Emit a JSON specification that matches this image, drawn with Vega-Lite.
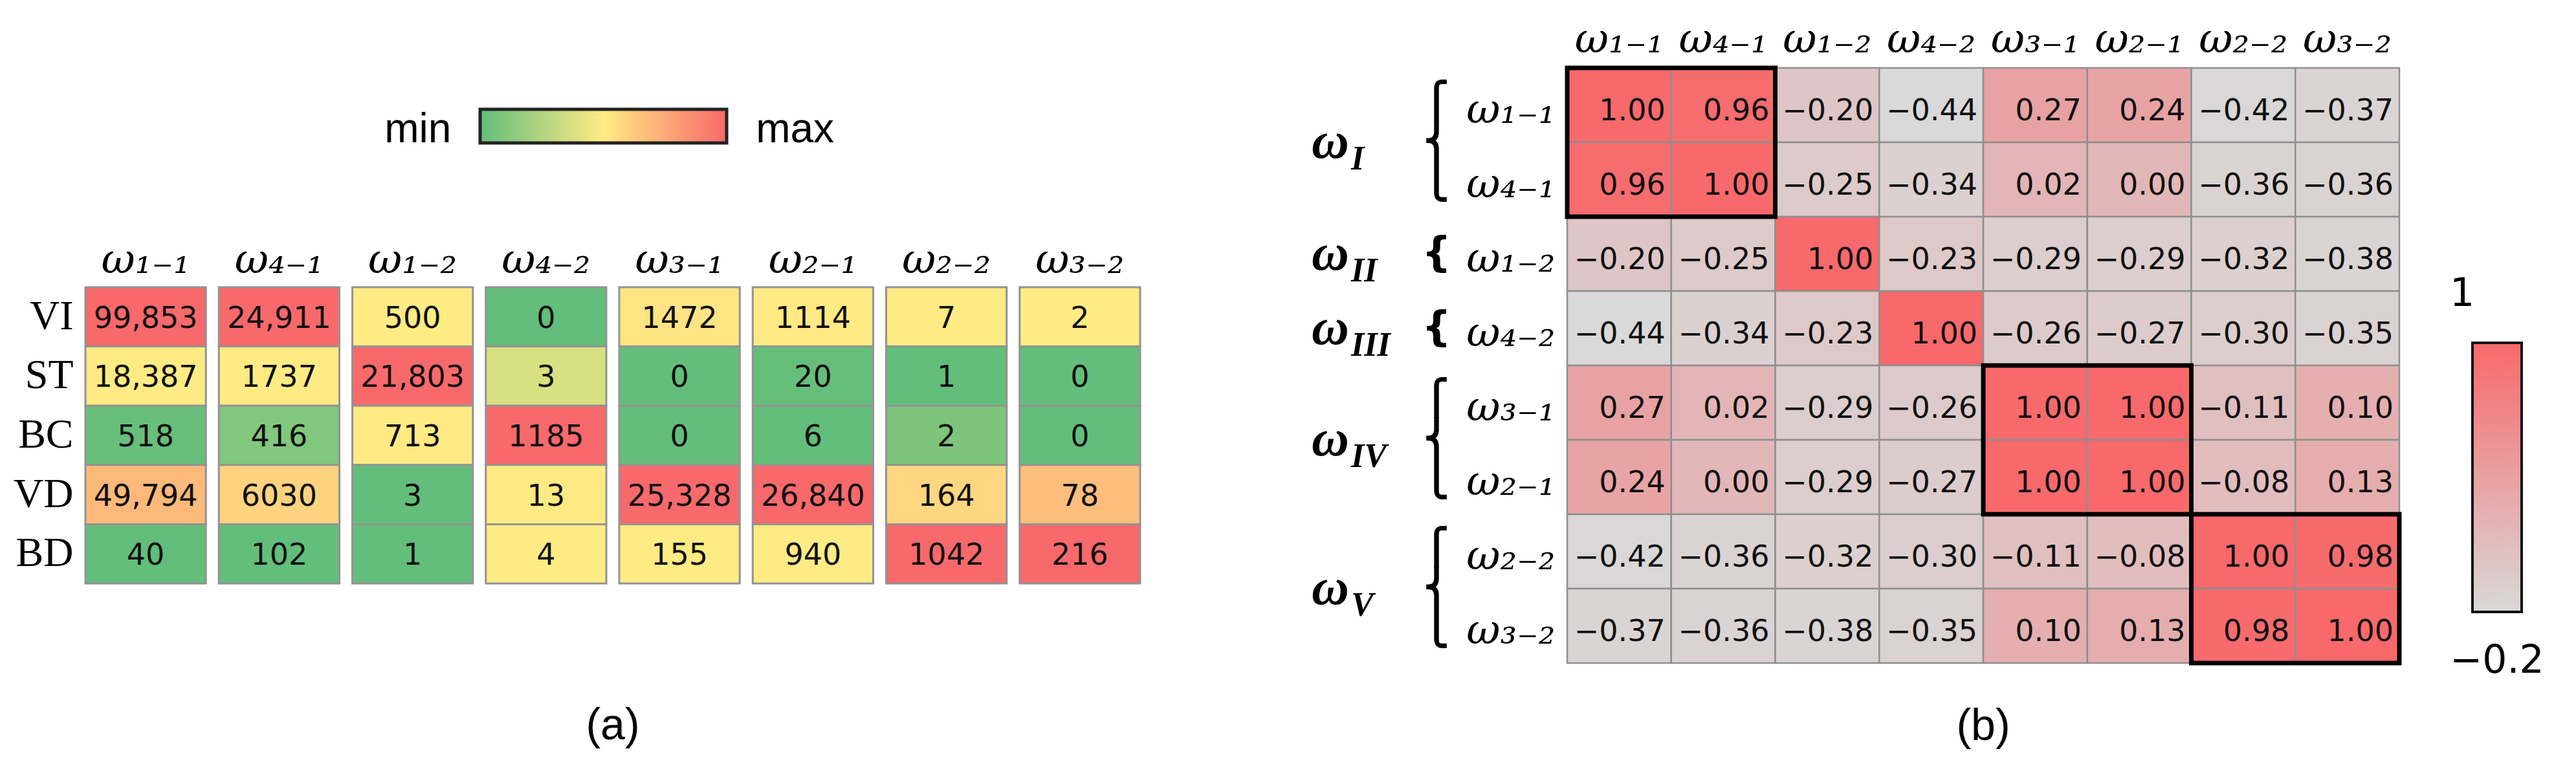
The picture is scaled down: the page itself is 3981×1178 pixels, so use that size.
{
  "$schema": "https://vega.github.io/schema/vega-lite/v6.json",
  "background": "white",
  "padding": {"left": 20, "top": 29, "right": 5, "bottom": 5},
  "autosize": {"type": "pad"},
  "bounds": "flush",
  "spacing": 660,
  "config": {"view": {"stroke": null}, "axis": {"grid": false}},
  "resolve": {"scale": {"color": "independent"}, "legend": {"color": "independent"}},
  "datasets": {
    "counts": [
      {"m": "VI", "c": "ω₁₋₁", "v": 99853, "pct": 1},
      {"m": "VI", "c": "ω₄₋₁", "v": 24911, "pct": 1},
      {"m": "VI", "c": "ω₁₋₂", "v": 500, "pct": 0.5},
      {"m": "VI", "c": "ω₄₋₂", "v": 0, "pct": 0},
      {"m": "VI", "c": "ω₃₋₁", "v": 1472, "pct": 0.526},
      {"m": "VI", "c": "ω₂₋₁", "v": 1114, "pct": 0.503},
      {"m": "VI", "c": "ω₂₋₂", "v": 7, "pct": 0.5},
      {"m": "VI", "c": "ω₃₋₂", "v": 2, "pct": 0.5},
      {"m": "ST", "c": "ω₁₋₁", "v": 18387, "pct": 0.5},
      {"m": "ST", "c": "ω₄₋₁", "v": 1737, "pct": 0.5},
      {"m": "ST", "c": "ω₁₋₂", "v": 21803, "pct": 1},
      {"m": "ST", "c": "ω₄₋₂", "v": 3, "pct": 0.375},
      {"m": "ST", "c": "ω₃₋₁", "v": 0, "pct": 0},
      {"m": "ST", "c": "ω₂₋₁", "v": 20, "pct": 0.0075},
      {"m": "ST", "c": "ω₂₋₂", "v": 1, "pct": 0},
      {"m": "ST", "c": "ω₃₋₂", "v": 0, "pct": 0},
      {"m": "BC", "c": "ω₁₋₁", "v": 518, "pct": 0.013},
      {"m": "BC", "c": "ω₄₋₁", "v": 416, "pct": 0.096},
      {"m": "BC", "c": "ω₁₋₂", "v": 713, "pct": 0.505},
      {"m": "BC", "c": "ω₄₋₂", "v": 1185, "pct": 1},
      {"m": "BC", "c": "ω₃₋₁", "v": 0, "pct": 0},
      {"m": "BC", "c": "ω₂₋₁", "v": 6, "pct": 0},
      {"m": "BC", "c": "ω₂₋₂", "v": 2, "pct": 0.083},
      {"m": "BC", "c": "ω₃₋₂", "v": 0, "pct": 0},
      {"m": "VD", "c": "ω₁₋₁", "v": 49794, "pct": 0.693},
      {"m": "VD", "c": "ω₄₋₁", "v": 6030, "pct": 0.593},
      {"m": "VD", "c": "ω₁₋₂", "v": 3, "pct": 0.002},
      {"m": "VD", "c": "ω₄₋₂", "v": 13, "pct": 0.504},
      {"m": "VD", "c": "ω₃₋₁", "v": 25328, "pct": 1},
      {"m": "VD", "c": "ω₂₋₁", "v": 26840, "pct": 1},
      {"m": "VD", "c": "ω₂₋₂", "v": 164, "pct": 0.576},
      {"m": "VD", "c": "ω₃₋₂", "v": 78, "pct": 0.678},
      {"m": "BD", "c": "ω₁₋₁", "v": 40, "pct": 0},
      {"m": "BD", "c": "ω₄₋₁", "v": 102, "pct": 0},
      {"m": "BD", "c": "ω₁₋₂", "v": 1, "pct": 0},
      {"m": "BD", "c": "ω₄₋₂", "v": 4, "pct": 0.5},
      {"m": "BD", "c": "ω₃₋₁", "v": 155, "pct": 0.5},
      {"m": "BD", "c": "ω₂₋₁", "v": 940, "pct": 0.5},
      {"m": "BD", "c": "ω₂₋₂", "v": 1042, "pct": 1},
      {"m": "BD", "c": "ω₃₋₂", "v": 216, "pct": 1}
    ],
    "corr": [
      {"r": "ω₁₋₁", "c": "ω₁₋₁", "v": 1.00}, {"r": "ω₁₋₁", "c": "ω₄₋₁", "v": 0.96}, {"r": "ω₁₋₁", "c": "ω₁₋₂", "v": -0.20}, {"r": "ω₁₋₁", "c": "ω₄₋₂", "v": -0.44},
      {"r": "ω₁₋₁", "c": "ω₃₋₁", "v": 0.27}, {"r": "ω₁₋₁", "c": "ω₂₋₁", "v": 0.24}, {"r": "ω₁₋₁", "c": "ω₂₋₂", "v": -0.42}, {"r": "ω₁₋₁", "c": "ω₃₋₂", "v": -0.37},
      {"r": "ω₄₋₁", "c": "ω₁₋₁", "v": 0.96}, {"r": "ω₄₋₁", "c": "ω₄₋₁", "v": 1.00}, {"r": "ω₄₋₁", "c": "ω₁₋₂", "v": -0.25}, {"r": "ω₄₋₁", "c": "ω₄₋₂", "v": -0.34},
      {"r": "ω₄₋₁", "c": "ω₃₋₁", "v": 0.02}, {"r": "ω₄₋₁", "c": "ω₂₋₁", "v": 0.00}, {"r": "ω₄₋₁", "c": "ω₂₋₂", "v": -0.36}, {"r": "ω₄₋₁", "c": "ω₃₋₂", "v": -0.36},
      {"r": "ω₁₋₂", "c": "ω₁₋₁", "v": -0.20}, {"r": "ω₁₋₂", "c": "ω₄₋₁", "v": -0.25}, {"r": "ω₁₋₂", "c": "ω₁₋₂", "v": 1.00}, {"r": "ω₁₋₂", "c": "ω₄₋₂", "v": -0.23},
      {"r": "ω₁₋₂", "c": "ω₃₋₁", "v": -0.29}, {"r": "ω₁₋₂", "c": "ω₂₋₁", "v": -0.29}, {"r": "ω₁₋₂", "c": "ω₂₋₂", "v": -0.32}, {"r": "ω₁₋₂", "c": "ω₃₋₂", "v": -0.38},
      {"r": "ω₄₋₂", "c": "ω₁₋₁", "v": -0.44}, {"r": "ω₄₋₂", "c": "ω₄₋₁", "v": -0.34}, {"r": "ω₄₋₂", "c": "ω₁₋₂", "v": -0.23}, {"r": "ω₄₋₂", "c": "ω₄₋₂", "v": 1.00},
      {"r": "ω₄₋₂", "c": "ω₃₋₁", "v": -0.26}, {"r": "ω₄₋₂", "c": "ω₂₋₁", "v": -0.27}, {"r": "ω₄₋₂", "c": "ω₂₋₂", "v": -0.30}, {"r": "ω₄₋₂", "c": "ω₃₋₂", "v": -0.35},
      {"r": "ω₃₋₁", "c": "ω₁₋₁", "v": 0.27}, {"r": "ω₃₋₁", "c": "ω₄₋₁", "v": 0.02}, {"r": "ω₃₋₁", "c": "ω₁₋₂", "v": -0.29}, {"r": "ω₃₋₁", "c": "ω₄₋₂", "v": -0.26},
      {"r": "ω₃₋₁", "c": "ω₃₋₁", "v": 1.00}, {"r": "ω₃₋₁", "c": "ω₂₋₁", "v": 1.00}, {"r": "ω₃₋₁", "c": "ω₂₋₂", "v": -0.11}, {"r": "ω₃₋₁", "c": "ω₃₋₂", "v": 0.10},
      {"r": "ω₂₋₁", "c": "ω₁₋₁", "v": 0.24}, {"r": "ω₂₋₁", "c": "ω₄₋₁", "v": 0.00}, {"r": "ω₂₋₁", "c": "ω₁₋₂", "v": -0.29}, {"r": "ω₂₋₁", "c": "ω₄₋₂", "v": -0.27},
      {"r": "ω₂₋₁", "c": "ω₃₋₁", "v": 1.00}, {"r": "ω₂₋₁", "c": "ω₂₋₁", "v": 1.00}, {"r": "ω₂₋₁", "c": "ω₂₋₂", "v": -0.08}, {"r": "ω₂₋₁", "c": "ω₃₋₂", "v": 0.13},
      {"r": "ω₂₋₂", "c": "ω₁₋₁", "v": -0.42}, {"r": "ω₂₋₂", "c": "ω₄₋₁", "v": -0.36}, {"r": "ω₂₋₂", "c": "ω₁₋₂", "v": -0.32}, {"r": "ω₂₋₂", "c": "ω₄₋₂", "v": -0.30},
      {"r": "ω₂₋₂", "c": "ω₃₋₁", "v": -0.11}, {"r": "ω₂₋₂", "c": "ω₂₋₁", "v": -0.08}, {"r": "ω₂₋₂", "c": "ω₂₋₂", "v": 1.00}, {"r": "ω₂₋₂", "c": "ω₃₋₂", "v": 0.98},
      {"r": "ω₃₋₂", "c": "ω₁₋₁", "v": -0.37}, {"r": "ω₃₋₂", "c": "ω₄₋₁", "v": -0.36}, {"r": "ω₃₋₂", "c": "ω₁₋₂", "v": -0.38}, {"r": "ω₃₋₂", "c": "ω₄₋₂", "v": -0.35},
      {"r": "ω₃₋₂", "c": "ω₃₋₁", "v": 0.10}, {"r": "ω₃₋₂", "c": "ω₂₋₁", "v": 0.13}, {"r": "ω₃₋₂", "c": "ω₂₋₂", "v": 0.98}, {"r": "ω₃₋₂", "c": "ω₃₋₂", "v": 1.00}
    ],
    "blocks": [
      {"c1": "ω₁₋₁", "c2": "ω₄₋₁"},
      {"c1": "ω₃₋₁", "c2": "ω₂₋₁"},
      {"c1": "ω₂₋₂", "c2": "ω₃₋₂"}
    ],
    "groups": [
      {"g": "I", "first": "ω₁₋₁", "n": 2},
      {"g": "II", "first": "ω₁₋₂", "n": 1},
      {"g": "III", "first": "ω₄₋₂", "n": 1},
      {"g": "IV", "first": "ω₃₋₁", "n": 2},
      {"g": "V", "first": "ω₂₋₂", "n": 2}
    ]
  },
  "hconcat": [
    {
      "width": 1630,
      "height": 920,
      "data": {"name": "counts"},
      "title": {"text": "(a)", "orient": "bottom", "anchor": "middle", "frame": "group", "offset": 64, "font": "Liberation Sans", "fontSize": 68, "fontWeight": "normal", "color": "black"},
      "encoding": {
        "x": {"field": "c", "type": "nominal", "title": null,
          "scale": {"domain": ["ω₁₋₁","ω₄₋₁","ω₁₋₂","ω₄₋₂","ω₃₋₁","ω₂₋₁","ω₂₋₂","ω₃₋₂"], "paddingInner": 0.097, "paddingOuter": 0},
          "axis": {"orient": "top", "offset": -339, "domain": false, "ticks": false, "labelAngle": 0, "labelPadding": 10, "labelFont": "DejaVu Serif", "labelFontStyle": "italic", "labelFontSize": 64, "labelColor": "black"}},
        "y": {"field": "m", "type": "nominal", "title": null,
          "scale": {"domain": ["VI","ST","BC","VD","BD"], "range": [339, 797], "paddingInner": 0, "paddingOuter": 0},
          "axis": {"domain": false, "ticks": false, "labelPadding": 19, "labelFont": "Liberation Serif", "labelFontSize": 64, "labelColor": "black"}}
      },
      "layer": [
        {
          "mark": {"type": "rect", "stroke": "#939393", "strokeWidth": 3},
          "encoding": {
            "color": {"field": "pct", "type": "quantitative",
              "scale": {"domain": [0, 0.5, 1], "range": ["#63BE7B", "#FFEB84", "#F8696B"], "interpolate": "rgb"},
              "legend": {"orient": "none", "legendX": 610, "legendY": 64, "direction": "horizontal", "title": null,
                "gradientLength": 381, "gradientThickness": 52, "gradientStrokeColor": "#222222", "gradientStrokeWidth": 5,
                "values": [-0.388, 1.436], "labelExpr": "datum.value < 0.5 ? 'min' : 'max'", "labelOffset": -52,
                "labelFont": "Liberation Sans", "labelFontSize": 64, "labelColor": "black", "labelLimit": 400}}
          }
        },
        {
          "transform": [{"filter": "datum.v >= 10000"}],
          "mark": {"type": "text", "font": "DejaVu Sans", "fontSize": 46, "color": "#111111", "baseline": "middle", "dy": 3},
          "encoding": {"text": {"field": "v", "type": "quantitative", "format": ","}}
        },
        {
          "transform": [{"filter": "datum.v < 10000"}],
          "mark": {"type": "text", "font": "DejaVu Sans", "fontSize": 46, "color": "#111111", "baseline": "middle", "dy": 3},
          "encoding": {"text": {"field": "v", "type": "quantitative", "format": "d"}}
        }
      ]
    },
    {
      "width": 1286,
      "height": 920,
      "title": {"text": "(b)", "orient": "bottom", "anchor": "middle", "frame": "group", "offset": 38, "font": "Liberation Sans", "fontSize": 68, "fontWeight": "normal", "color": "black"},
      "layer": [
        {
          "data": {"name": "corr"},
          "mark": {"type": "rect", "stroke": "#8f8f8f", "strokeWidth": 2.5},
          "encoding": {
            "x": {"field": "c", "type": "nominal", "title": null,
              "scale": {"domain": ["ω₁₋₁","ω₄₋₁","ω₁₋₂","ω₄₋₂","ω₃₋₁","ω₂₋₁","ω₂₋₂","ω₃₋₂"], "paddingInner": 0, "paddingOuter": 0},
              "axis": {"orient": "top", "domain": false, "ticks": false, "labelAngle": 0, "labelPadding": 12, "labelFont": "DejaVu Serif", "labelFontStyle": "italic", "labelFontSize": 64, "labelColor": "black"}},
            "y": {"field": "r", "type": "nominal", "title": null,
              "scale": {"domain": ["ω₁₋₁","ω₄₋₁","ω₁₋₂","ω₄₋₂","ω₃₋₁","ω₂₋₁","ω₂₋₂","ω₃₋₂"], "paddingInner": 0, "paddingOuter": 0},
              "axis": {"domain": false, "ticks": false, "labelPadding": 19, "labelOffset": 8, "labelFont": "DejaVu Serif", "labelFontStyle": "italic", "labelFontSize": 64, "labelColor": "black"}},
            "color": {"field": "v", "type": "quantitative",
              "scale": {"domain": [-0.44, 1], "range": ["#D9D9D9", "#F8696B"], "interpolate": "rgb"},
              "legend": {"orient": "none", "legendX": 1399, "legendY": 425, "direction": "vertical", "title": null,
                "gradientLength": 416, "gradientThickness": 76, "gradientStrokeColor": "#111111", "gradientStrokeWidth": 4,
                "values": [-0.81, 1.36], "labelExpr": "datum.value < 0 ? '−0.2' : '\u2002\u2009\u2009' + '1'", "labelOffset": -111,
                "labelFont": "DejaVu Sans", "labelFontSize": 60, "labelColor": "black", "labelLimit": 400}}
          }
        },
        {
          "data": {"name": "corr"},
          "mark": {"type": "text", "font": "DejaVu Sans", "fontSize": 46, "color": "#111111", "align": "right", "baseline": "middle", "dx": -9, "dy": 9},
          "encoding": {
            "x": {"field": "c", "type": "nominal", "title": null, "bandPosition": 1,
              "scale": {"domain": ["ω₁₋₁","ω₄₋₁","ω₁₋₂","ω₄₋₂","ω₃₋₁","ω₂₋₁","ω₂₋₂","ω₃₋₂"], "paddingInner": 0, "paddingOuter": 0}},
            "y": {"field": "r", "type": "nominal", "title": null,
              "scale": {"domain": ["ω₁₋₁","ω₄₋₁","ω₁₋₂","ω₄₋₂","ω₃₋₁","ω₂₋₁","ω₂₋₂","ω₃₋₂"], "paddingInner": 0, "paddingOuter": 0}},
            "text": {"field": "v", "type": "quantitative", "format": ".2f"}
          }
        },
        {
          "data": {"name": "blocks"},
          "mark": {"type": "rect", "fill": "transparent", "stroke": "black", "strokeWidth": 7},
          "encoding": {
            "x": {"field": "c1", "type": "nominal", "title": null, "bandPosition": 0,
              "scale": {"domain": ["ω₁₋₁","ω₄₋₁","ω₁₋₂","ω₄₋₂","ω₃₋₁","ω₂₋₁","ω₂₋₂","ω₃₋₂"], "paddingInner": 0, "paddingOuter": 0}},
            "x2": {"field": "c2", "bandPosition": 1},
            "y": {"field": "c1", "type": "nominal", "title": null, "bandPosition": 0,
              "scale": {"domain": ["ω₁₋₁","ω₄₋₁","ω₁₋₂","ω₄₋₂","ω₃₋₁","ω₂₋₁","ω₂₋₂","ω₃₋₂"], "paddingInner": 0, "paddingOuter": 0}},
            "y2": {"field": "c2", "bandPosition": 1}
          }
        },
        {
          "data": {"name": "groups"},
          "transform": [{"filter": "datum.n == 2"}],
          "mark": {"type": "text", "text": "ω", "font": "Liberation Serif", "fontStyle": "italic", "fontWeight": "bold", "fontSize": 80, "align": "left", "baseline": "alphabetic", "dx": -395, "dy": 24, "color": "black"},
          "encoding": {
            "x": {"datum": "ω₁₋₁", "type": "nominal", "title": null, "bandPosition": 0,
              "scale": {"domain": ["ω₁₋₁","ω₄₋₁","ω₁₋₂","ω₄₋₂","ω₃₋₁","ω₂₋₁","ω₂₋₂","ω₃₋₂"], "paddingInner": 0, "paddingOuter": 0}},
            "y": {"field": "first", "type": "nominal", "title": null, "bandPosition": 1,
              "scale": {"domain": ["ω₁₋₁","ω₄₋₁","ω₁₋₂","ω₄₋₂","ω₃₋₁","ω₂₋₁","ω₂₋₂","ω₃₋₂"], "paddingInner": 0, "paddingOuter": 0}}
          }
        },
        {
          "data": {"name": "groups"},
          "transform": [{"filter": "datum.n == 2"}],
          "mark": {"type": "text", "font": "Liberation Serif", "fontStyle": "italic", "fontWeight": "bold", "fontSize": 52, "align": "left", "baseline": "alphabetic", "dx": -334, "dy": 42, "color": "black"},
          "encoding": {
            "x": {"datum": "ω₁₋₁", "type": "nominal", "title": null, "bandPosition": 0,
              "scale": {"domain": ["ω₁₋₁","ω₄₋₁","ω₁₋₂","ω₄₋₂","ω₃₋₁","ω₂₋₁","ω₂₋₂","ω₃₋₂"], "paddingInner": 0, "paddingOuter": 0}},
            "y": {"field": "first", "type": "nominal", "title": null, "bandPosition": 1,
              "scale": {"domain": ["ω₁₋₁","ω₄₋₁","ω₁₋₂","ω₄₋₂","ω₃₋₁","ω₂₋₁","ω₂₋₂","ω₃₋₂"], "paddingInner": 0, "paddingOuter": 0}},
            "text": {"field": "g", "type": "nominal"}
          }
        },
        {
          "data": {"name": "groups"},
          "transform": [{"filter": "datum.n == 2"}],
          "mark": {"type": "text", "text": "⎧\n⎨\n⎩", "lineBreak": "\n", "font": "DejaVu Sans", "fontWeight": "bold", "fontSize": 54, "lineHeight": 63, "align": "center", "baseline": "middle", "dx": -202, "dy": -63, "color": "black"},
          "encoding": {
            "x": {"datum": "ω₁₋₁", "type": "nominal", "title": null, "bandPosition": 0,
              "scale": {"domain": ["ω₁₋₁","ω₄₋₁","ω₁₋₂","ω₄₋₂","ω₃₋₁","ω₂₋₁","ω₂₋₂","ω₃₋₂"], "paddingInner": 0, "paddingOuter": 0}},
            "y": {"field": "first", "type": "nominal", "title": null, "bandPosition": 1,
              "scale": {"domain": ["ω₁₋₁","ω₄₋₁","ω₁₋₂","ω₄₋₂","ω₃₋₁","ω₂₋₁","ω₂₋₂","ω₃₋₂"], "paddingInner": 0, "paddingOuter": 0}}
          }
        },
        {
          "data": {"name": "groups"},
          "transform": [{"filter": "datum.n == 1"}],
          "mark": {"type": "text", "text": "ω", "font": "Liberation Serif", "fontStyle": "italic", "fontWeight": "bold", "fontSize": 80, "align": "left", "baseline": "alphabetic", "dx": -395, "dy": 24, "color": "black"},
          "encoding": {
            "x": {"datum": "ω₁₋₁", "type": "nominal", "title": null, "bandPosition": 0,
              "scale": {"domain": ["ω₁₋₁","ω₄₋₁","ω₁₋₂","ω₄₋₂","ω₃₋₁","ω₂₋₁","ω₂₋₂","ω₃₋₂"], "paddingInner": 0, "paddingOuter": 0}},
            "y": {"field": "first", "type": "nominal", "title": null,
              "scale": {"domain": ["ω₁₋₁","ω₄₋₁","ω₁₋₂","ω₄₋₂","ω₃₋₁","ω₂₋₁","ω₂₋₂","ω₃₋₂"], "paddingInner": 0, "paddingOuter": 0}}
          }
        },
        {
          "data": {"name": "groups"},
          "transform": [{"filter": "datum.n == 1"}],
          "mark": {"type": "text", "font": "Liberation Serif", "fontStyle": "italic", "fontWeight": "bold", "fontSize": 52, "align": "left", "baseline": "alphabetic", "dx": -334, "dy": 42, "color": "black"},
          "encoding": {
            "x": {"datum": "ω₁₋₁", "type": "nominal", "title": null, "bandPosition": 0,
              "scale": {"domain": ["ω₁₋₁","ω₄₋₁","ω₁₋₂","ω₄₋₂","ω₃₋₁","ω₂₋₁","ω₂₋₂","ω₃₋₂"], "paddingInner": 0, "paddingOuter": 0}},
            "y": {"field": "first", "type": "nominal", "title": null,
              "scale": {"domain": ["ω₁₋₁","ω₄₋₁","ω₁₋₂","ω₄₋₂","ω₃₋₁","ω₂₋₁","ω₂₋₂","ω₃₋₂"], "paddingInner": 0, "paddingOuter": 0}},
            "text": {"field": "g", "type": "nominal"}
          }
        },
        {
          "data": {"name": "groups"},
          "transform": [{"filter": "datum.n == 1"}],
          "mark": {"type": "text", "text": "{", "font": "DejaVu Sans", "fontWeight": "bold", "fontSize": 64, "align": "center", "baseline": "middle", "dx": -202, "color": "black"},
          "encoding": {
            "x": {"datum": "ω₁₋₁", "type": "nominal", "title": null, "bandPosition": 0,
              "scale": {"domain": ["ω₁₋₁","ω₄₋₁","ω₁₋₂","ω₄₋₂","ω₃₋₁","ω₂₋₁","ω₂₋₂","ω₃₋₂"], "paddingInner": 0, "paddingOuter": 0}},
            "y": {"field": "first", "type": "nominal", "title": null,
              "scale": {"domain": ["ω₁₋₁","ω₄₋₁","ω₁₋₂","ω₄₋₂","ω₃₋₁","ω₂₋₁","ω₂₋₂","ω₃₋₂"], "paddingInner": 0, "paddingOuter": 0}}
          }
        }
      ]
    }
  ]
}
